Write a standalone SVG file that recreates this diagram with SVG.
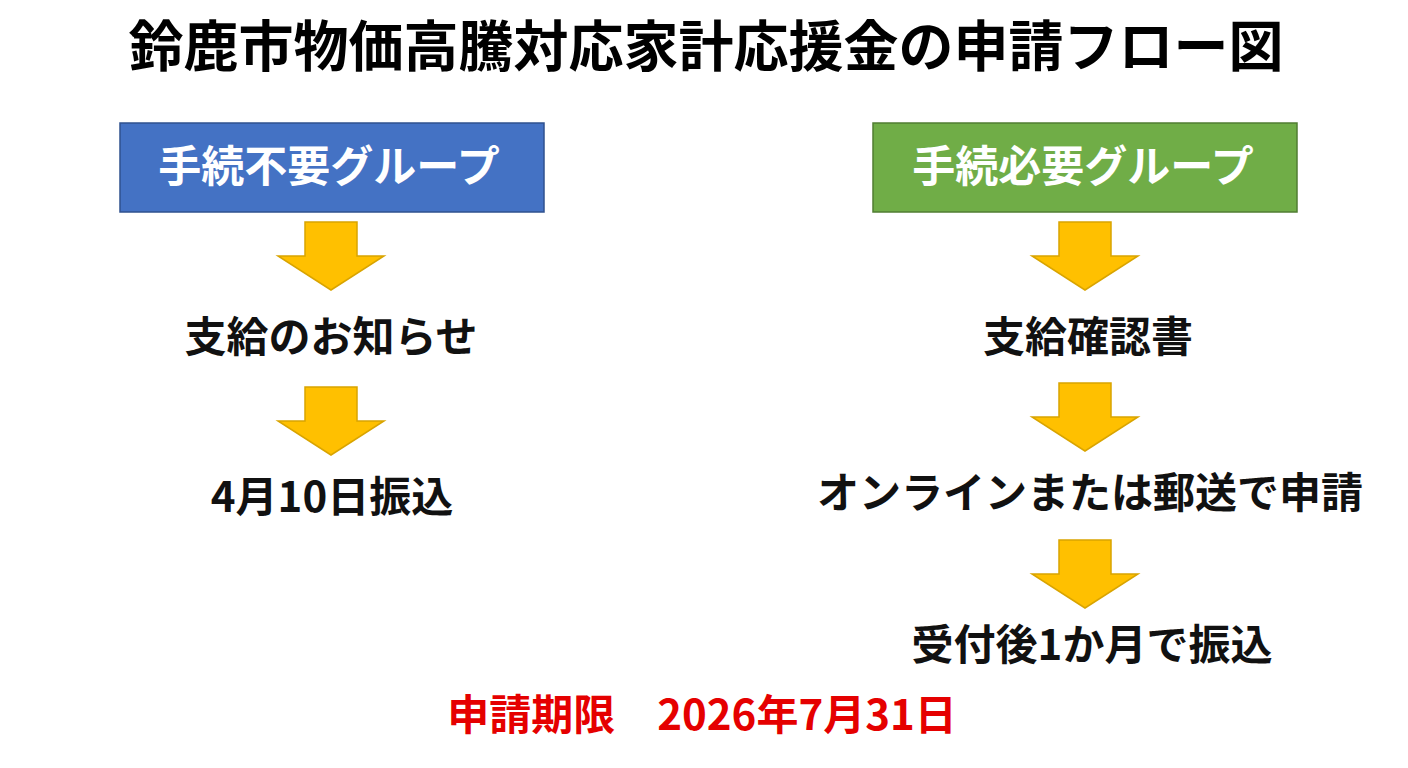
<svg xmlns="http://www.w3.org/2000/svg" width="1408" height="768" viewBox="0 0 1408 768">
<defs>
<style>
text{font-family:"Noto Sans CJK JP","Noto Sans",sans-serif;font-weight:bold;text-anchor:middle;}
.t{font-size:55px;fill:#000;}
.h{font-size:43px;fill:#fff;}
.s{font-size:42px;fill:#111;}
.r{font-size:42px;fill:#e50000;}
.arr{fill:#ffc000;stroke:#d9a400;stroke-width:1.5;}
</style>
<path id="dn" class="arr" d="M-26,0 H26 V34 H53 L0,68 L-53,34 H-26 Z"/>
</defs>
<rect width="1408" height="768" fill="#fff"/>
<g id="title"><text class="t" x="706" y="66">鈴鹿市物価高騰対応家計応援金の申請フロー図</text></g>
<g id="left-header">
<rect x="120" y="123" width="424" height="89" fill="#4472c4" stroke="#2f528f" stroke-width="1.5"/>
<text class="h" x="329" y="182">手続不要グループ</text>
</g>
<g id="left-1"><text class="s" x="331" y="352">支給のお知らせ</text></g>
<g id="left-2"><text class="s" x="332" y="512">4月10日振込</text></g>
<g id="right-header">
<rect x="873" y="123" width="424" height="89" fill="#70ad47" stroke="#507e32" stroke-width="1.5"/>
<text class="h" x="1083" y="182">手続必要グループ</text>
</g>
<g id="right-1"><text class="s" x="1088" y="352">支給確認書</text></g>
<g id="right-2"><text class="s" x="1090" y="508">オンラインまたは郵送で申請</text></g>
<g id="right-3"><text class="s" x="1092" y="660">受付後1か月で振込</text></g>
<g id="deadline"><text class="r" x="702" y="730">申請期限　2026年7月31日</text></g>
<g id="connectors">
<use href="#dn" x="331" y="222"/>
<use href="#dn" x="331" y="387"/>
<use href="#dn" x="1085" y="222"/>
<use href="#dn" x="1085" y="383"/>
<use href="#dn" x="1085" y="540"/>
</g>
</svg>
